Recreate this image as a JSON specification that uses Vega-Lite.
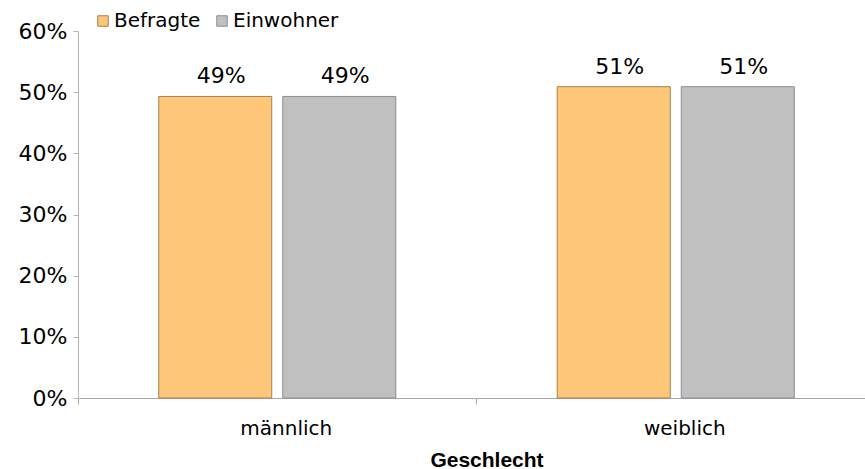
{
  "$schema": "https://vega.github.io/schema/vega-lite/v6.json",
  "width": 787,
  "height": 367,
  "autosize": {"type": "none"},
  "padding": {"left": 78, "top": 31, "right": 0, "bottom": 71},
  "background": "white",
  "config": {"view": {"stroke": null}, "font": "DejaVu Sans"},
  "data": {
    "values": [
      {"Geschlecht": "männlich", "Gruppe": "Befragte", "Anteil": 0.493},
      {"Geschlecht": "männlich", "Gruppe": "Einwohner", "Anteil": 0.493},
      {"Geschlecht": "weiblich", "Gruppe": "Befragte", "Anteil": 0.509},
      {"Geschlecht": "weiblich", "Gruppe": "Einwohner", "Anteil": 0.509}
    ]
  },
  "encoding": {
    "x": {
      "field": "Geschlecht",
      "type": "nominal",
      "scale": {"range": [0, 797], "paddingInner": 0, "paddingOuter": 0},
      "axis": {
        "title": "Geschlecht",
        "labelAngle": 0,
        "bandPosition": 0,
        "tickSize": 6,
        "labelPadding": 30,
        "labelBaseline": "alphabetic",
        "labelOffset": 9,
        "labelFontSize": 20,
        "labelColor": "#000000",
        "titleFont": "Liberation Sans",
        "titleFontWeight": "bold",
        "titleFontSize": 21,
        "titleColor": "#000000",
        "titleX": 408.5,
        "titleY": 68,
        "titleAlign": "center",
        "titleBaseline": "alphabetic",
        "domainColor": "#a8a8a8",
        "tickColor": "#a8a8a8"
      }
    },
    "xOffset": {
      "field": "Gruppe",
      "type": "nominal",
      "scale": {"paddingInner": 0.0887, "paddingOuter": 0.651}
    },
    "y": {
      "field": "Anteil",
      "type": "quantitative",
      "scale": {"domain": [0, 0.6], "nice": false},
      "axis": {
        "title": null,
        "values": [0, 0.1, 0.2, 0.3, 0.4, 0.5, 0.6],
        "format": ".0%",
        "grid": false,
        "tickSize": 5,
        "labelPadding": 6,
        "labelFontSize": 22,
        "labelColor": "#000000",
        "domainColor": "#b4b4b4",
        "tickColor": "#b4b4b4"
      }
    }
  },
  "layer": [
    {
      "mark": {"type": "bar", "strokeWidth": 1},
      "encoding": {
        "fill": {
          "field": "Gruppe",
          "type": "nominal",
          "scale": {"domain": ["Befragte", "Einwohner"], "range": ["#FEC679", "#C0C0C0"]},
          "legend": {
            "title": null,
            "orient": "none",
            "legendX": 15,
            "legendY": -20,
            "direction": "horizontal",
            "symbolType": "square",
            "symbolSize": 110,
            "symbolStrokeWidth": 1,
            "labelFontSize": 20,
            "labelColor": "#000000",
            "labelOffset": 1,
            "columnPadding": 11,
            "padding": 0
          }
        },
        "stroke": {
          "field": "Gruppe",
          "type": "nominal",
          "scale": {"domain": ["Befragte", "Einwohner"], "range": ["#A8804C", "#8C8C8C"]},
          "legend": {
            "title": null,
            "orient": "none",
            "legendX": 15,
            "legendY": -20,
            "direction": "horizontal",
            "symbolType": "square",
            "symbolSize": 110,
            "symbolStrokeWidth": 1,
            "labelFontSize": 20,
            "labelColor": "#000000",
            "labelOffset": 1,
            "columnPadding": 11,
            "padding": 0
          }
        }
      }
    },
    {
      "mark": {"type": "text", "baseline": "alphabetic", "dy": -13, "dx": 6, "fontSize": 22, "color": "#000000"},
      "encoding": {
        "text": {"field": "Anteil", "type": "quantitative", "format": ".0%"}
      }
    }
  ]
}
